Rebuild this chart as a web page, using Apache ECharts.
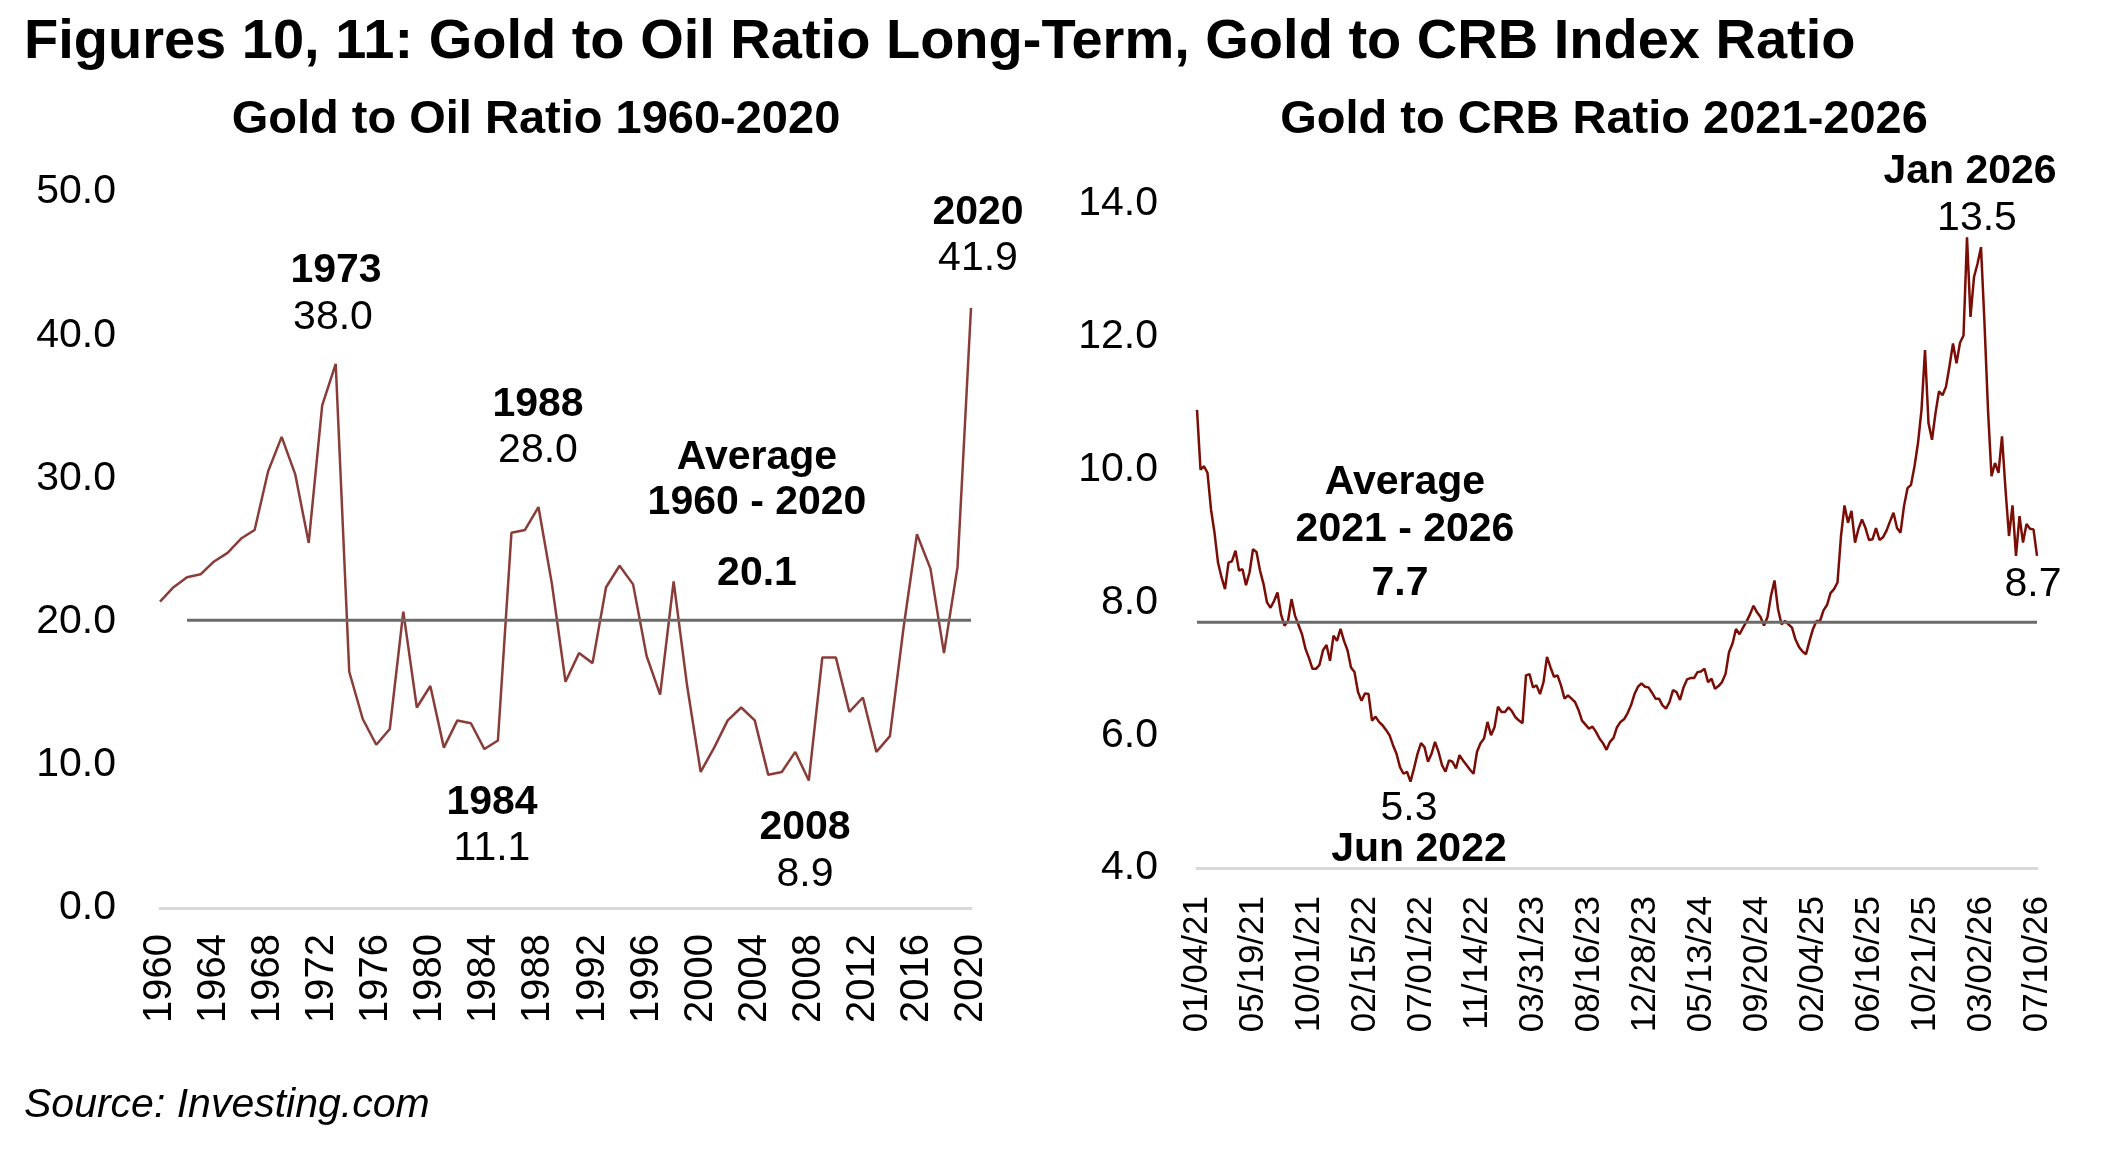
<!DOCTYPE html>
<html>
<head>
<meta charset="utf-8">
<title>Gold to Oil Ratio, Gold to CRB Ratio</title>
<script src="https://cdn.jsdelivr.net/npm/echarts@6.0.0/dist/echarts.min.js"></script>
<style>
html, body { margin: 0; padding: 0; background: #fff; }
#main { width: 2124px; height: 1150px; }
</style>
</head>
<body>
<div id="main"></div>
<script>
// data: gold / oil, yearly 1960-2020
var oilYears = [];
for (var y = 1960; y <= 2020; y++) oilYears.push(String(y));

var oilRatio = [
    21.4, 22.4, 23.1, 23.3, 24.2, 24.8, 25.8, 26.4, 30.5, 32.9,
    30.3, 25.5, 35.1, 38.0, 16.5, 13.2, 11.4, 12.5, 20.7, 14.0,
    15.5, 11.2, 13.1, 12.9, 11.1, 11.7, 26.2, 26.4, 28.0, 22.6,
    15.8, 17.8, 17.1, 22.4, 23.9, 22.6, 17.6, 14.9, 22.8, 15.5,
    9.5, 11.2, 13.1, 14.0, 13.1, 9.3, 9.5, 10.9, 8.9, 17.5,
    17.5, 13.7, 14.7, 10.9, 12.0, 19.5, 26.1, 23.7, 17.8, 23.8,
    41.9
];
var oilAverage = 20.1;
var oilAverageFrom = '1962';

// data: gold / CRB index 2021-2026
var crbTickLabels = [
    '01/04/21', '05/19/21', '10/01/21', '02/15/22', '07/01/22', '11/14/22',
    '03/31/23', '08/16/23', '12/28/23', '05/13/24', '09/20/24', '02/04/25',
    '06/16/25', '10/21/25', '03/02/26', '07/10/26'
];
var crbPointsPerTick = 16;
var crbRatio = [
    10.9, 10.0, 10.05, 9.95, 9.4, 9.05, 8.6, 8.38, 8.2, 8.6,
    8.62, 8.78, 8.48, 8.5, 8.26, 8.45, 8.8, 8.76, 8.48, 8.28,
    8.0, 7.92, 8.02, 8.15, 7.82, 7.65, 7.72, 8.05, 7.8, 7.66,
    7.52, 7.3, 7.16, 7.0, 7.0, 7.06, 7.28, 7.36, 7.12, 7.5,
    7.42, 7.6, 7.42, 7.28, 7.02, 6.95, 6.65, 6.52, 6.63, 6.62,
    6.22, 6.28, 6.2, 6.15, 6.08, 6.0, 5.85, 5.72, 5.52, 5.42,
    5.45, 5.3, 5.5, 5.72, 5.88, 5.82, 5.6, 5.72, 5.9, 5.75,
    5.55, 5.45, 5.62, 5.6, 5.5, 5.7, 5.62, 5.55, 5.48, 5.42,
    5.75, 5.88, 5.95, 6.2, 6.0, 6.12, 6.43, 6.35, 6.35, 6.42,
    6.36, 6.27, 6.22, 6.18, 6.9, 6.92, 6.72, 6.75, 6.62, 6.8,
    7.18, 7.02, 6.88, 6.9, 6.75, 6.55, 6.6, 6.55, 6.5, 6.38,
    6.22, 6.16, 6.1, 6.13, 6.05, 5.95, 5.88, 5.78, 5.9, 5.96,
    6.12, 6.2, 6.24, 6.33, 6.45, 6.62, 6.73, 6.78, 6.73, 6.72,
    6.64, 6.55, 6.55, 6.45, 6.4, 6.5, 6.68, 6.65, 6.53, 6.72,
    6.84, 6.86, 6.86, 6.95, 6.96, 7.0, 6.8, 6.85, 6.7, 6.74,
    6.8, 6.92, 7.25, 7.38, 7.6, 7.52, 7.62, 7.71, 7.82, 7.95,
    7.85, 7.78, 7.65, 7.78, 8.1, 8.33, 7.9, 7.67, 7.72, 7.67,
    7.62, 7.44, 7.33, 7.26, 7.22, 7.42, 7.6, 7.72, 7.72, 7.88,
    7.96, 8.14, 8.2, 8.3, 9.0, 9.46, 9.2, 9.38, 8.9, 9.11,
    9.25, 9.12, 8.94, 8.95, 9.12, 8.94, 8.98, 9.08, 9.22, 9.35,
    9.12, 9.05, 9.45, 9.72, 9.77, 10.05, 10.4, 10.9, 11.8, 10.7,
    10.45, 10.85, 11.18, 11.12, 11.25, 11.56, 11.9, 11.6, 11.91, 12.02,
    13.5, 12.3, 12.9, 13.1, 13.35, 12.2, 10.9, 9.9, 10.1, 9.95,
    10.5, 9.7, 9.0, 9.46, 8.7, 9.3, 8.9, 9.18, 9.11, 9.1,
    8.7
];
var crbAverage = 7.7;

// categories for the CRB axis, one per point
var crbCategories = [];
for (var i = 0; i < (crbTickLabels.length - 1) * crbPointsPerTick + 1; i++) crbCategories.push(String(i));

var oilAvgLine = oilYears.map(function (yr) { return +yr >= +oilAverageFrom ? oilAverage : null; });
var crbAvgLine = crbCategories.map(function () { return crbAverage; });

var FONT = '"Liberation Sans", Arial, Helvetica, sans-serif';

function txt(s, x, y, size, weight, align, style) {
    return {
        type: 'text', x: x, y: y, silent: true,
        style: {
            text: s, fill: '#000',
            font: (style || 'normal') + ' ' + (weight || 'normal') + ' ' + size + 'px ' + FONT,
            textAlign: align || 'center', textVerticalAlign: 'middle'
        }
    };
}
function oilVal(yr) { return oilRatio[oilYears.indexOf(yr)].toFixed(1); }

var myChart = echarts.init(document.getElementById('main'));

var axisLineStyle = {show: true, lineStyle: {color: '#d9d9d9', width: 3}};

var option = {
    animation: false,
    backgroundColor: '#fff',
    grid: [
        {left: 160, top: 192, width: 811, height: 716, outerBoundsMode: 'none'},
        {left: 1197, top: 204, width: 840, height: 664, outerBoundsMode: 'none'}
    ],
    xAxis: [
        {
            type: 'category', gridIndex: 0, data: oilYears, boundaryGap: false,
            axisLine: axisLineStyle, axisTick: {show: false},
            axisLabel: {interval: 3, rotate: 90, fontSize: 40, color: '#000', fontFamily: FONT, margin: 26}
        },
        {
            type: 'category', gridIndex: 1, data: crbCategories, boundaryGap: false,
            axisLine: axisLineStyle, axisTick: {show: false},
            axisLabel: {
                interval: crbPointsPerTick - 1, rotate: 90, fontSize: 35, color: '#000', fontFamily: FONT, margin: 28,
                formatter: function (v, idx) {
                    return idx % crbPointsPerTick === 0 ? crbTickLabels[idx / crbPointsPerTick] : '';
                }
            }
        }
    ],
    yAxis: [
        {
            type: 'value', gridIndex: 0, min: 0, max: 50, interval: 10,
            axisLine: {show: false}, axisTick: {show: false}, splitLine: {show: false},
            axisLabel: {fontSize: 41, color: '#000', fontFamily: FONT, margin: 44,
                formatter: function (v) { return v.toFixed(1); }}
        },
        {
            type: 'value', gridIndex: 1, min: 4, max: 14, interval: 2,
            axisLine: {show: false}, axisTick: {show: false}, splitLine: {show: false},
            axisLabel: {fontSize: 41, color: '#000', fontFamily: FONT, margin: 39,
                formatter: function (v) { return v.toFixed(1); }}
        }
    ],
    series: [
        {
            name: 'Gold/Oil', type: 'line', xAxisIndex: 0, yAxisIndex: 0, data: oilRatio,
            symbol: 'none', lineStyle: {color: '#8a3c38', width: 2.5}
        },
        {
            name: 'Gold/Oil average', type: 'line', xAxisIndex: 0, yAxisIndex: 0, data: oilAvgLine,
            symbol: 'none', lineStyle: {color: '#6b6b6b', width: 3}
        },
        {
            name: 'Gold/CRB', type: 'line', xAxisIndex: 1, yAxisIndex: 1, data: crbRatio,
            symbol: 'none', lineStyle: {color: '#7a0e06', width: 2.5}
        },
        {
            name: 'Gold/CRB average', type: 'line', xAxisIndex: 1, yAxisIndex: 1, data: crbAvgLine,
            symbol: 'none', lineStyle: {color: '#6b6b6b', width: 3}
        }
    ],
    graphic: [
        txt('Figures 10, 11: Gold to Oil Ratio Long-Term, Gold to CRB Index Ratio', 24, 43, 56, 'bold', 'left'),
        txt('Gold to Oil Ratio 1960-2020', 536, 120, 47, 'bold'),
        txt('Gold to CRB Ratio 2021-2026', 1604, 120, 47, 'bold'),
        txt('Source: Investing.com', 24, 1106, 41, 'normal', 'left', 'italic'),

        // left chart notes
        txt('1973', 336, 271, 41, 'bold'),
        txt(oilVal('1973'), 333, 318, 41),
        txt('1988', 538, 405, 41, 'bold'),
        txt(oilVal('1988'), 538, 451, 41),
        txt('Average', 757, 458, 41, 'bold'),
        txt('1960 - 2020', 757, 503, 41, 'bold'),
        txt(oilAverage.toFixed(1), 757, 574, 41, 'bold'),
        txt('2020', 978, 213, 41, 'bold'),
        txt(oilVal('2020'), 978, 259, 41),
        txt('1984', 492, 803, 41, 'bold'),
        txt(oilVal('1984'), 492, 849, 41),
        txt('2008', 805, 828, 41, 'bold'),
        txt(oilVal('2008'), 805, 875, 41),

        // right chart notes
        txt('Jan 2026', 1970, 172, 41, 'bold'),
        txt('13.5', 1977, 219, 41),
        txt('Average', 1405, 483, 41, 'bold'),
        txt('2021 - 2026', 1405, 530, 41, 'bold'),
        txt(crbAverage.toFixed(1), 1400, 584, 41, 'bold'),
        txt(crbRatio[crbRatio.length - 1].toFixed(1), 2033, 585, 41),
        txt('5.3', 1409, 809, 41),
        txt('Jun 2022', 1419, 850, 41, 'bold')
    ]
};

myChart.setOption(option);
</script>
</body>
</html>
